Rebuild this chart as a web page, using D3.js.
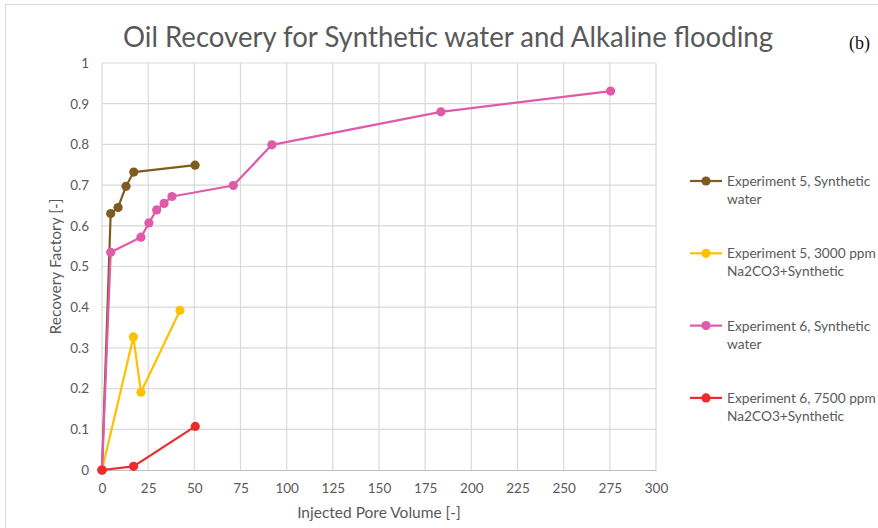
<!DOCTYPE html>
<html>
<head>
<meta charset="utf-8">
<script src="https://cdn.jsdelivr.net/npm/d3@7"></script>
<style>
  body { margin: 0; background: #fff; }
  text { font-family: Lato, 'Open Sans', sans-serif; fill: #595959; }
</style>
</head>
<body>
<div id="chart"></div>
<script>
// Series data
const exp5WaterX = [0, 4.7, 8.7, 13, 17.2, 50.4];
const exp5WaterY = [0, 0.630, 0.645, 0.697, 0.732, 0.749];

const exp5AlkX = [0, 17, 21.1, 42.2];
const exp5AlkY = [0, 0.327, 0.191, 0.392];

const exp6WaterX = [0, 4.7, 21.1, 25.4, 29.6, 33.6, 37.9, 71.1, 92, 183.5, 275.4];
const exp6WaterY = [0, 0.535, 0.572, 0.607, 0.639, 0.655, 0.672, 0.699, 0.799, 0.880, 0.931];

const exp6AlkX = [0, 17.1, 50.5];
const exp6AlkY = [0, 0.009, 0.107];

const seriesNames = [
  ['Experiment 5, Synthetic', 'water'],
  ['Experiment 5, 3000 ppm', 'Na2CO3+Synthetic'],
  ['Experiment 6, Synthetic', 'water'],
  ['Experiment 6, 7500 ppm', 'Na2CO3+Synthetic']
];
const seriesColors = ['#7f5b1f', '#ffc000', '#e05aaa', '#ee2a2c'];

const xTicks = d3.range(0, 301, 25);
const yTicks = [0, 0.1, 0.2, 0.3, 0.4, 0.5, 0.6, 0.7, 0.8, 0.9, 1];

const series = [
  { x: exp5WaterX, y: exp5WaterY },
  { x: exp5AlkX, y: exp5AlkY },
  { x: exp6WaterX, y: exp6WaterY },
  { x: exp6AlkX, y: exp6AlkY }
].map((s, i) => ({
  name: seriesNames[i],
  color: seriesColors[i],
  points: s.x.map((v, j) => ({ x: v, y: s.y[j] }))
}));

const W = 878, H = 528;
const margin = { top: 63, left: 102, right: W - 656, bottom: H - 470 };
const width = W - margin.left - margin.right;
const height = H - margin.top - margin.bottom;

const svg = d3.select('#chart').append('svg').attr('width', W).attr('height', H);

// chart frame (left and top edges visible)
svg.append('rect')
  .attr('x', 5.5).attr('y', 4.5)
  .attr('width', W + 10).attr('height', H + 10)
  .attr('fill', 'none').attr('stroke', '#d9d9d9');

const xScale = d3.scaleLinear().domain([0, 300]).range([0, width]);
const yScale = d3.scaleLinear().domain([0, 1]).range([height, 0]);

const chart = svg.append('g').attr('transform', `translate(${margin.left},${margin.top})`);

// gridlines
chart.append('g').selectAll('line.v').data(xTicks).enter().append('line')
  .attr('x1', d => xScale(d)).attr('x2', d => xScale(d))
  .attr('y1', 0).attr('y2', height)
  .attr('stroke', '#d9d9d9').attr('stroke-width', 1.2);
chart.append('g').selectAll('line.h').data(yTicks.slice(1)).enter().append('line')
  .attr('x1', 0).attr('x2', width)
  .attr('y1', d => yScale(d)).attr('y2', d => yScale(d))
  .attr('stroke', '#d9d9d9').attr('stroke-width', 1.2);

// X axis
const xAxis = chart.append('g').attr('transform', `translate(0,${height})`)
  .call(d3.axisBottom(xScale).tickValues(xTicks).tickSize(0).tickPadding(13));
xAxis.select('.domain').attr('stroke', '#bfbfbf').attr('stroke-width', 1.2);
xAxis.selectAll('text').style('font-family', 'Lato, sans-serif').style('font-size', '13.5px').attr('fill', '#595959');

// Y axis
const yAxis = chart.append('g')
  .call(d3.axisLeft(yScale).tickValues(yTicks).tickSize(0).tickPadding(13).tickFormat(d => d3.format('~g')(d)));
yAxis.select('.domain').remove();
yAxis.selectAll('text').style('font-family', 'Lato, sans-serif').style('font-size', '13.5px').attr('fill', '#595959');

// lines and markers
const line = d3.line().x(d => xScale(d.x)).y(d => yScale(d.y));
series.forEach(s => {
  chart.append('path').datum(s.points)
    .attr('d', line).attr('fill', 'none')
    .attr('stroke', s.color).attr('stroke-width', 2.2).attr('stroke-linejoin', 'round');
  chart.append('g').selectAll('circle').data(s.points).enter().append('circle')
    .attr('cx', d => xScale(d.x)).attr('cy', d => yScale(d.y)).attr('r', 4.6)
    .attr('fill', s.color);
});

// titles
svg.append('text').attr('x', 448).attr('y', 47).attr('text-anchor', 'middle')
  .attr('textLength', 650).attr('lengthAdjust', 'spacingAndGlyphs')
  .style('font-size', '28px').style('font-weight', 400)
  .text('Oil Recovery for Synthetic water and Alkaline flooding');
svg.append('text').attr('x', 849).attr('y', 49)
  .style('font-family', "'Liberation Serif', serif").style('font-size', '18px')
  .style('fill', '#111').text('(b)');
svg.append('text').attr('x', margin.left + width / 2).attr('y', 518).attr('text-anchor', 'middle')
  .style('font-size', '15.5px').text('Injected Pore Volume [-]');
svg.append('text').attr('transform', `translate(61,${margin.top + height / 2}) rotate(-90)`)
  .attr('text-anchor', 'middle').style('font-size', '15.5px').text('Recovery Factory [-]');

// legend
const legend = svg.append('g').attr('transform', 'translate(690,181)');
const item = legend.selectAll('g').data(series).enter().append('g')
  .attr('transform', (d, i) => `translate(0,${i * 72.3})`);
item.append('line').attr('x1', 0).attr('x2', 32).attr('y1', 0).attr('y2', 0)
  .attr('stroke', d => d.color).attr('stroke-width', 2.2);
item.append('circle').attr('cx', 16).attr('cy', 0).attr('r', 4.6).attr('fill', d => d.color);
item.append('text').attr('x', 37).attr('y', 5).style('font-size', '13.7px').text(d => d.name[0]);
item.append('text').attr('x', 37).attr('y', 23).style('font-size', '13.7px').text(d => d.name[1]);
</script>
</body>
</html>
